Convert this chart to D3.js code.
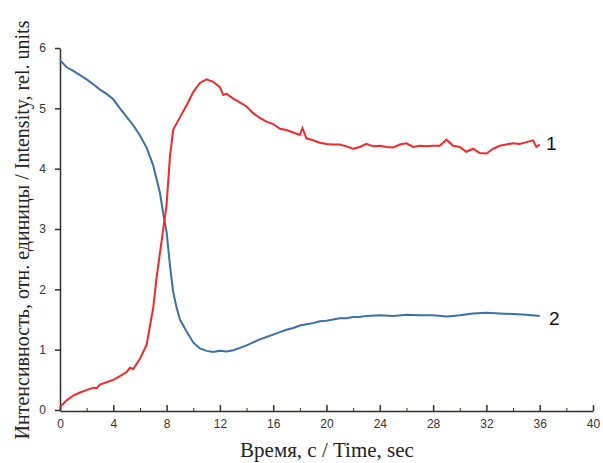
<!DOCTYPE html>
<html>
<head>
<meta charset="utf-8">
<script src="https://cdn.jsdelivr.net/npm/d3@7"></script>
<style>
  body { margin: 0; background: #fff; }
  .tick text { font-family: Arial, "Liberation Sans", sans-serif; font-size: 12px; fill: #333; }
  .axis path, .axis line { stroke: #2f2f24; }
</style>
</head>
<body>
<div id="chart"></div>
<script>
// curve 1 (red)
var t1 = [0, 0.5, 1, 1.5, 2, 2.5, 2.75, 3, 3.5, 4, 4.5, 5, 5.25, 5.5, 6, 6.5, 7, 7.25, 7.5, 7.75, 8, 8.25, 8.5,
  9, 9.5, 10, 10.5, 11, 11.5, 12, 12.25, 12.5, 13, 13.5, 14, 14.5, 15, 15.5, 16, 16.5, 17, 17.5, 18, 18.2, 18.5,
  19, 19.5, 20, 20.5, 21, 21.5, 22, 22.5, 23, 23.5, 24, 24.5, 25, 25.5, 26, 26.5, 27, 27.5, 28, 28.5,
  29, 29.5, 30, 30.5, 31, 31.5, 32, 32.5, 33, 33.5, 34, 34.5, 35, 35.5, 35.75, 36];
var v1 = [0.05, 0.16, 0.24, 0.29, 0.33, 0.37, 0.36, 0.42, 0.46, 0.5, 0.56, 0.63, 0.7, 0.68, 0.85, 1.08, 1.7, 2.2, 2.6, 3.0, 3.4, 4.2, 4.65,
  4.85, 5.05, 5.27, 5.42, 5.48, 5.44, 5.35, 5.22, 5.24, 5.16, 5.1, 5.03, 4.92, 4.84, 4.78, 4.74, 4.66, 4.64, 4.6, 4.56, 4.67, 4.5,
  4.47, 4.43, 4.41, 4.4, 4.4, 4.37, 4.33, 4.36, 4.41, 4.37, 4.38, 4.36, 4.35, 4.4, 4.42, 4.36, 4.38, 4.37, 4.38, 4.38,
  4.48, 4.38, 4.36, 4.28, 4.33, 4.26, 4.25, 4.33, 4.38, 4.4, 4.42, 4.41, 4.44, 4.47, 4.36, 4.4];

// curve 2 (blue)
var t2 = [0, 0.25, 0.5, 1, 1.5, 2, 2.5, 3, 3.5, 4, 4.5, 5, 5.5, 6, 6.5, 7, 7.5, 7.75, 8, 8.25, 8.5, 8.75,
  9, 9.5, 10, 10.5, 11, 11.5, 12, 12.5, 13, 13.5, 14, 14.5, 15, 15.5, 16, 16.5, 17, 17.5, 18, 18.5, 19, 19.5,
  20, 20.5, 21, 21.5, 22, 22.5, 23, 24, 25, 26, 27, 28, 29, 29.5, 30, 31, 32, 33, 34, 35, 36];
var v2 = [5.8, 5.74, 5.68, 5.62, 5.55, 5.48, 5.4, 5.31, 5.24, 5.15, 5.0, 4.86, 4.72, 4.55, 4.35, 4.05, 3.6, 3.25, 2.95, 2.4, 1.95, 1.7,
  1.5, 1.3, 1.12, 1.02, 0.98, 0.96, 0.98, 0.97, 0.99, 1.03, 1.07, 1.12, 1.17, 1.21, 1.25, 1.29, 1.33, 1.36, 1.4, 1.42, 1.44, 1.47,
  1.48, 1.5, 1.52, 1.52, 1.54, 1.54, 1.56, 1.57, 1.56, 1.58, 1.57, 1.57, 1.55, 1.56, 1.57, 1.6, 1.61, 1.6, 1.59, 1.58, 1.56];

var xTicks = [0, 4, 8, 12, 16, 20, 24, 28, 32, 36, 40];
var xMinor = [2, 6, 10, 14, 18, 22, 26, 30, 34, 38];
var yTicks = [0, 1, 2, 3, 4, 5, 6];

var width = 603, height = 463;

var svg = d3.select("#chart").append("svg")
  .attr("width", width)
  .attr("height", height);

var x = d3.scaleLinear().domain([0, 40]).range([60, 593]);
var y = d3.scaleLinear().domain([0, 6]).range([410, 48]);

// x axis, ticks point inward
svg.append("g")
  .attr("class", "axis")
  .attr("transform", "translate(0,411)")
  .call(d3.axisBottom(x).tickValues(xMinor).tickSizeInner(-3).tickSizeOuter(0).tickFormat(""))
  .select(".domain").remove();

svg.append("g")
  .attr("class", "axis")
  .attr("transform", "translate(0,411)")
  .call(d3.axisBottom(x).tickValues(xTicks).tickSizeInner(-6).tickSizeOuter(0).tickPadding(8).tickFormat(d3.format("d")))
  .selectAll("line, path").attr("stroke-width", 1.5);

// y axis
svg.append("g")
  .attr("class", "axis")
  .attr("transform", "translate(60,0)")
  .call(d3.axisLeft(y).tickValues(yTicks).tickSize(5).tickSizeOuter(0).tickPadding(9).tickFormat(d3.format("d")))
  .selectAll("line, path").attr("stroke-width", 1.5);

var line = d3.line()
  .x(function(d) { return x(d[0]); })
  .y(function(d) { return y(d[1]); });

svg.append("path")
  .datum(d3.zip(t2, v2))
  .attr("fill", "none")
  .attr("stroke", "#3b6fa8")
  .attr("stroke-width", 2)
  .attr("d", line);

svg.append("path")
  .datum(d3.zip(t1, v1))
  .attr("fill", "none")
  .attr("stroke", "#f42828")
  .attr("stroke-width", 2)
  .attr("d", line);

// curve numbers
svg.append("text")
  .attr("x", 546).attr("y", 150)
  .style("font", "19px Arial, 'Liberation Sans', sans-serif")
  .style("fill", "#111")
  .text("1");

svg.append("text")
  .attr("x", 549).attr("y", 325)
  .style("font", "19px Arial, 'Liberation Sans', sans-serif")
  .style("fill", "#111")
  .text("2");

// axis titles
svg.append("text")
  .attr("transform", "translate(29,230)rotate(-90)")
  .attr("text-anchor", "middle")
  .style("font", "20px 'Liberation Serif', 'Times New Roman', serif")
  .style("fill", "#222")
  .text("Интенсивность, отн. единицы / Intensity, rel. units");

svg.append("text")
  .attr("x", 327).attr("y", 457)
  .attr("text-anchor", "middle")
  .style("font", "21px 'Liberation Serif', 'Times New Roman', serif")
  .style("fill", "#222")
  .text("Время, с / Time, sec");
</script>
</body>
</html>
